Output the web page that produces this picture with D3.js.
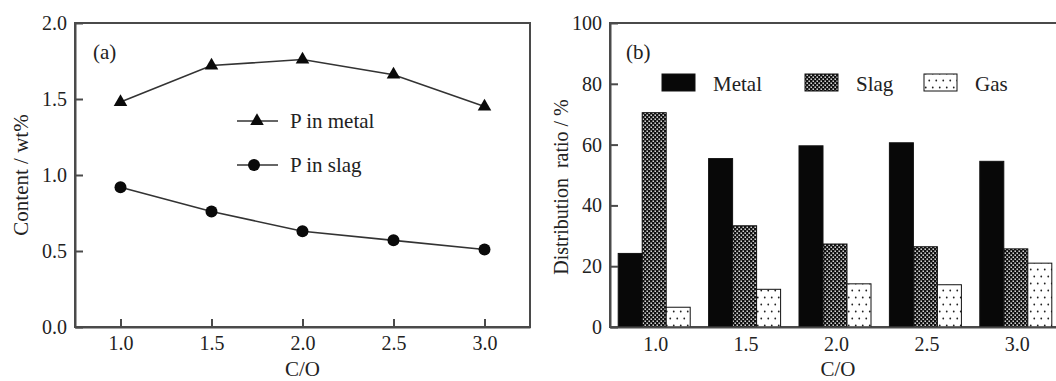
<!DOCTYPE html>
<html>
<head>
<meta charset="utf-8">
<script src="https://cdn.jsdelivr.net/npm/d3@7"></script>
<style>
  body { margin: 0; background: #fff; }
  svg { display: block; font-family: "Liberation Serif", "Times New Roman", serif; }
  .axis text { font-size: 20px; fill: #222; font-family: "Liberation Serif", serif; }
  .axis path, .axis line { stroke: #4a4a4a; stroke-width: 2; }
</style>
</head>
<body>
<div id="chart"></div>
<script>
// ---- data ----
const coRatio = [1.0, 1.5, 2.0, 2.5, 3.0];
const pInMetal = [1.48, 1.72, 1.76, 1.66, 1.45];
const pInSlag = [0.92, 0.76, 0.63, 0.57, 0.51];

const distSeries = ['Metal', 'Slag', 'Gas'];
const distMetal = [24.2, 55.4, 59.6, 60.6, 54.5];
const distSlag = [70.5, 33.3, 27.3, 26.4, 25.7];
const distGas = [6.5, 12.4, 14.2, 13.9, 21.0];

const ticksA = [0, 0.5, 1.0, 1.5, 2.0];
const ticksB = [0, 20, 40, 60, 80, 100];

const W = 1056, H = 381;
const FONT = '"Liberation Serif", "Times New Roman", serif';
const INK = '#222';
const LINE = '#4a4a4a';

const svg = d3.select('#chart').append('svg')
  .attr('width', W)
  .attr('height', H);

// patterns for the bars
const defs = svg.append('defs');
const slagPat = defs.append('pattern')
  .attr('id', 'slag')
  .attr('patternUnits', 'userSpaceOnUse')
  .attr('width', 4).attr('height', 4);
slagPat.append('rect').attr('width', 4).attr('height', 4).attr('fill', '#111');
slagPat.append('rect').attr('x', 0.5).attr('y', 0.5).attr('width', 1.4).attr('height', 1.4).attr('fill', '#fff');
slagPat.append('rect').attr('x', 2.5).attr('y', 2.5).attr('width', 1.4).attr('height', 1.4).attr('fill', '#fff');

const gasPat = defs.append('pattern')
  .attr('id', 'gas')
  .attr('patternUnits', 'userSpaceOnUse')
  .attr('width', 7).attr('height', 14);
gasPat.append('rect').attr('width', 7).attr('height', 14).attr('fill', '#fff');
gasPat.append('circle').attr('cx', 1.75).attr('cy', 3.5).attr('r', 0.9).attr('fill', '#222');
gasPat.append('circle').attr('cx', 5.25).attr('cy', 10.5).attr('r', 0.9).attr('fill', '#222');

const fills = {Metal: '#080808', Slag: 'url(#slag)', Gas: 'url(#gas)'};

// ================= panel (a) =================
const xa = d3.scaleLinear().domain([0.75, 3.25]).range([75, 530]);
const ya = d3.scaleLinear().domain([0, 2]).range([327, 23]);

svg.append('rect')
  .attr('x', xa.range()[0]).attr('y', ya.range()[1])
  .attr('width', xa.range()[1] - xa.range()[0])
  .attr('height', ya.range()[0] - ya.range()[1])
  .attr('fill', 'none').attr('stroke', LINE).attr('stroke-width', 2);

svg.append('g')
  .attr('class', 'axis')
  .attr('transform', 'translate(0,' + ya.range()[0] + ')')
  .call(d3.axisBottom(xa).tickValues(coRatio).tickFormat(d3.format('.1f'))
    .tickSizeInner(-8).tickSizeOuter(0).tickPadding(9));

svg.append('g')
  .attr('class', 'axis')
  .attr('transform', 'translate(' + xa.range()[0] + ',0)')
  .call(d3.axisLeft(ya).tickValues(ticksA).tickFormat(d3.format('.1f'))
    .tickSizeInner(-8).tickSizeOuter(0).tickPadding(8));

const lineA = d3.line().x((d, i) => xa(coRatio[i])).y(d => ya(d));

svg.append('path').datum(pInMetal)
  .attr('d', lineA).attr('fill', 'none').attr('stroke', '#333').attr('stroke-width', 1.6);
svg.append('path').datum(pInSlag)
  .attr('d', lineA).attr('fill', 'none').attr('stroke', '#333').attr('stroke-width', 1.6);

const tri = d3.symbol().type(d3.symbolTriangle).size(80);
svg.selectAll('.tri').data(pInMetal).enter().append('path')
  .attr('class', 'tri')
  .attr('d', tri)
  .attr('transform', (d, i) => 'translate(' + xa(coRatio[i]) + ',' + ya(d) + ')')
  .attr('fill', '#0a0a0a');

svg.selectAll('.dot').data(pInSlag).enter().append('circle')
  .attr('class', 'dot')
  .attr('cx', (d, i) => xa(coRatio[i]))
  .attr('cy', d => ya(d))
  .attr('r', 6)
  .attr('fill', '#0a0a0a');

svg.append('text').attr('x', 93).attr('y', 59)
  .attr('font-size', 21).attr('fill', INK).attr('font-family', FONT).text('(a)');

// legend (a)
const legA = [
  {label: 'P in metal', y: 121, shape: 'tri'},
  {label: 'P in slag', y: 165, shape: 'dot'}
];
legA.forEach(function (l) {
  svg.append('line').attr('x1', 237).attr('x2', 278).attr('y1', l.y).attr('y2', l.y)
    .attr('stroke', '#333').attr('stroke-width', 1.6);
  if (l.shape == 'tri') {
    svg.append('path').attr('d', tri).attr('transform', 'translate(257,' + l.y + ')').attr('fill', '#0a0a0a');
  } else {
    svg.append('circle').attr('cx', 254).attr('cy', l.y).attr('r', 6).attr('fill', '#0a0a0a');
  }
  svg.append('text').attr('x', 290).attr('y', l.y + 7)
    .attr('font-size', 21).attr('fill', INK).attr('font-family', FONT).text(l.label);
});

svg.append('text')
  .attr('x', (xa.range()[0] + xa.range()[1]) / 2).attr('y', 376)
  .attr('text-anchor', 'middle').attr('font-size', 21).attr('fill', INK).attr('font-family', FONT)
  .text('C/O');

svg.append('text')
  .attr('transform', 'translate(28,' + ((ya.range()[0] + ya.range()[1]) / 2) + ') rotate(-90)')
  .attr('text-anchor', 'middle').attr('font-size', 21).attr('fill', INK).attr('font-family', FONT)
  .text('Content / wt%');

// ================= panel (b) =================
const xb = d3.scaleLinear().domain([0.75, 3.25]).range([610, 1062]);
const yb = d3.scaleLinear().domain([0, 100]).range([327, 23]);
const barW = 24;

svg.append('rect')
  .attr('x', xb.range()[0]).attr('y', yb.range()[1])
  .attr('width', xb.range()[1] - xb.range()[0])
  .attr('height', yb.range()[0] - yb.range()[1])
  .attr('fill', 'none').attr('stroke', LINE).attr('stroke-width', 2);

const distValues = {Metal: distMetal, Slag: distSlag, Gas: distGas};
distSeries.forEach(function (s, k) {
  svg.selectAll('.bar-' + s).data(distValues[s]).enter().append('rect')
    .attr('class', 'bar-' + s)
    .attr('x', (d, i) => xb(coRatio[i]) - 1.5 * barW - 1 + k * barW)
    .attr('y', d => yb(d))
    .attr('width', barW)
    .attr('height', d => yb(0) - yb(d))
    .attr('fill', fills[s])
    .attr('stroke', '#111')
    .attr('stroke-width', 1);
});

svg.append('g')
  .attr('class', 'axis')
  .attr('transform', 'translate(0,' + yb.range()[0] + ')')
  .call(d3.axisBottom(xb).tickValues(coRatio).tickFormat(d3.format('.1f'))
    .tickSizeInner(0).tickSizeOuter(0).tickPadding(10));

svg.append('g')
  .attr('class', 'axis')
  .attr('transform', 'translate(' + xb.range()[0] + ',0)')
  .call(d3.axisLeft(yb).tickValues(ticksB)
    .tickSizeInner(-8).tickSizeOuter(0).tickPadding(8));

svg.append('text').attr('x', 626).attr('y', 59)
  .attr('font-size', 21).attr('fill', INK).attr('font-family', FONT).text('(b)');

// legend (b)
const legBx = [662, 805, 924];
distSeries.forEach(function (s, k) {
  svg.append('rect').attr('x', legBx[k]).attr('y', 74).attr('width', 33).attr('height', 17)
    .attr('fill', fills[s]).attr('stroke', '#111').attr('stroke-width', 1);
  svg.append('text').attr('x', legBx[k] + 51).attr('y', 91)
    .attr('font-size', 21).attr('fill', INK).attr('font-family', FONT).text(s);
});

svg.append('text')
  .attr('x', xb(2.0) + 2).attr('y', 376)
  .attr('text-anchor', 'middle').attr('font-size', 21).attr('fill', INK).attr('font-family', FONT)
  .text('C/O');

svg.append('text')
  .attr('transform', 'translate(568,187) rotate(-90)')
  .attr('text-anchor', 'middle').attr('font-size', 20).attr('fill', INK).attr('font-family', FONT)
  .attr('xml:space', 'preserve')
  .text('Distribution  ratio / %');
</script>
</body>
</html>
